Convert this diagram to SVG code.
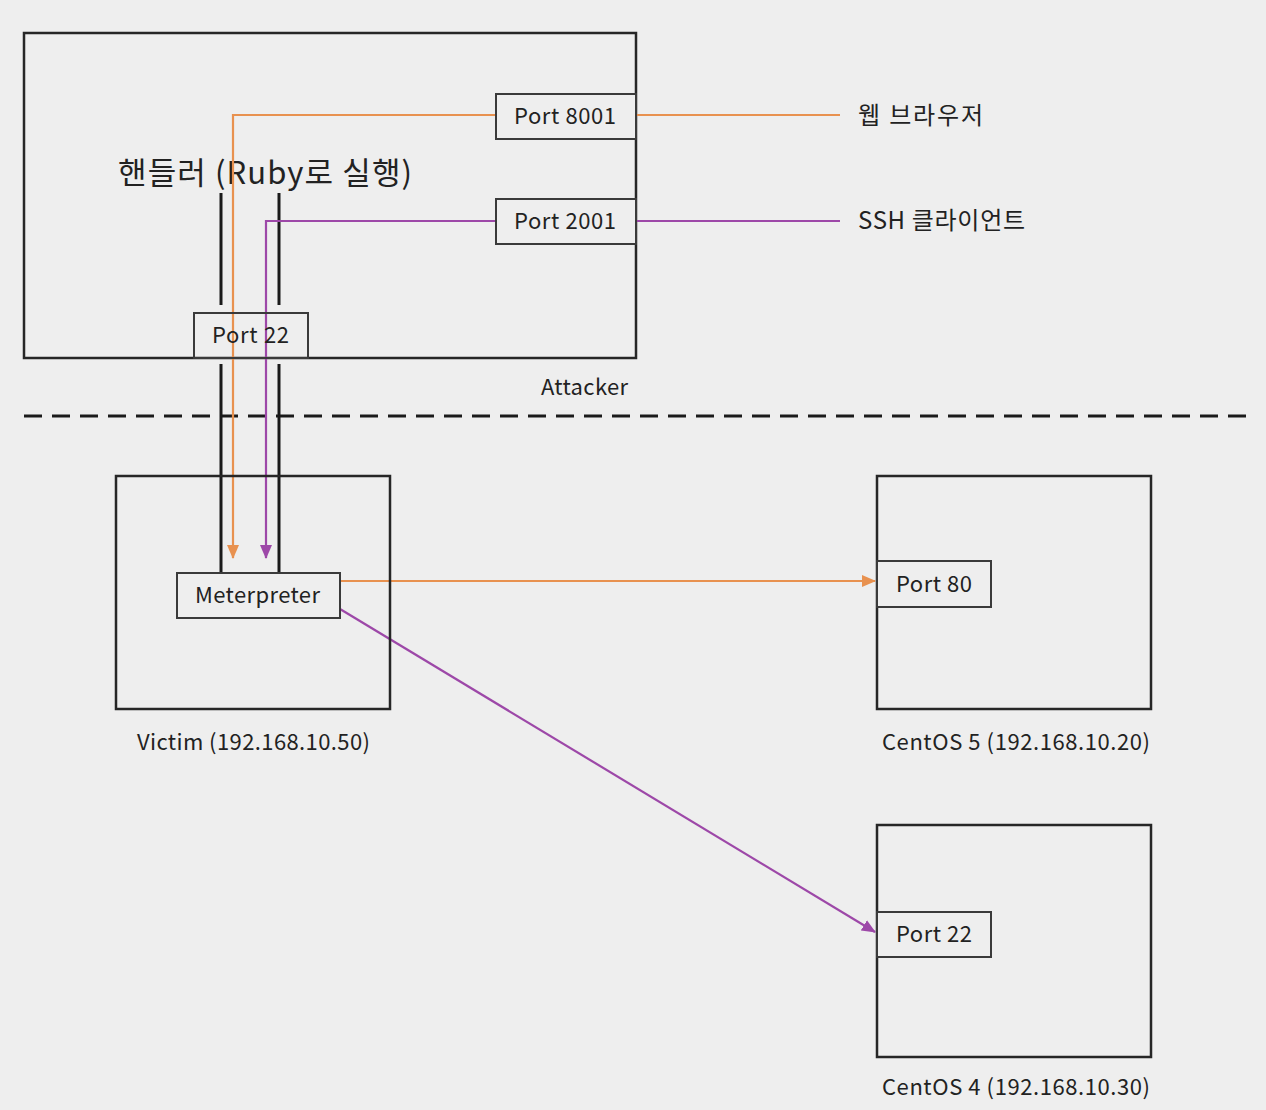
<svg xmlns="http://www.w3.org/2000/svg" width="1266" height="1110" viewBox="0 0 1266 1110">
<style>
.box{fill:none;stroke:#262626;stroke-width:2.5}
.port{fill:#eeeeee;stroke:#3a3a3a;stroke-width:2}
.t{font-family:"Noto Sans CJK KR","Open Sans",sans-serif;font-size:22px;fill:#222}
.k{font-size:24px}
.or{stroke:#e8914f;stroke-width:2.2;fill:none}
.pu{stroke:#9d48a8;stroke-width:2.2;fill:none}
.bl{stroke:#1a1a1a;stroke-width:3;fill:none}
</style>
<defs>
<marker id="ao" markerWidth="14" markerHeight="12" refX="13" refY="6" orient="auto" markerUnits="userSpaceOnUse"><path d="M0,0 L14,6 L0,12 Z" fill="#e8914f"/></marker>
<marker id="ap" markerWidth="14" markerHeight="12" refX="13" refY="6" orient="auto" markerUnits="userSpaceOnUse"><path d="M0,0 L14,6 L0,12 Z" fill="#9d48a8"/></marker>
</defs>
<rect width="1266" height="1110" fill="#eeeeee"/>
<g id="attacker">
<rect class="box" x="24" y="33" width="612" height="325"/>
<text class="t" x="541" y="395" textLength="87" lengthAdjust="spacing">Attacker</text>
<text class="t" x="118" y="184" style="font-size:31px" textLength="294" lengthAdjust="spacing">핸들러 (Ruby로 실행)</text>
</g>
<g id="connectors">
<path class="bl" d="M221,193 V305 M279,193 V305 M221,364 V572 M279,364 V572"/>
<line x1="24" y1="416" x2="1250" y2="416" stroke="#1a1a1a" stroke-width="3" stroke-dasharray="18,10"/>
<path class="or" d="M496,115 H233 V558" marker-end="url(#ao)"/>
<path class="pu" d="M496,221 H266 V558" marker-end="url(#ap)"/>
<path class="or" d="M636,115 H840"/>
<path class="pu" d="M636,221 H840"/>
<path class="or" d="M340,581 H875" marker-end="url(#ao)"/>
<path class="pu" d="M340,609 L875,932" marker-end="url(#ap)"/>
</g>
<g id="port8001"><rect class="port" x="496" y="94" width="140" height="45"/><text class="t" x="514" y="124" textLength="102" lengthAdjust="spacing">Port 8001</text></g>
<g id="port2001"><rect class="port" x="496" y="199" width="140" height="45"/><text class="t" x="514" y="229" textLength="102" lengthAdjust="spacing">Port 2001</text></g>
<g id="attacker-port22"><rect class="port" x="194" y="313" width="114" height="45" style="fill:none"/><text class="t" x="212" y="343" textLength="77" lengthAdjust="spacing">Port 22</text></g>
<g id="web-browser"><text class="t k" x="858" y="124" textLength="125" lengthAdjust="spacing">웹 브라우저</text></g>
<g id="ssh-client"><text class="t k" x="858" y="229" textLength="167" lengthAdjust="spacing">SSH 클라이언트</text></g>
<g id="victim">
<rect class="box" x="116" y="476" width="274" height="233"/>
<text class="t" x="137" y="750" textLength="233" lengthAdjust="spacing">Victim (192.168.10.50)</text>
</g>
<g id="meterpreter"><rect class="port" x="177" y="573" width="163" height="45"/><text class="t" x="195" y="603" textLength="125" lengthAdjust="spacing">Meterpreter</text></g>
<g id="centos5">
<rect class="box" x="877" y="476" width="274" height="233"/>
<text class="t" x="882" y="750" textLength="268" lengthAdjust="spacing">CentOS 5 (192.168.10.20)</text>
</g>
<g id="centos5-port80"><rect class="port" x="877" y="561" width="114" height="46"/><text class="t" x="896" y="592" textLength="76" lengthAdjust="spacing">Port 80</text></g>
<g id="centos4">
<rect class="box" x="877" y="825" width="274" height="232"/>
<text class="t" x="882" y="1095" textLength="268" lengthAdjust="spacing">CentOS 4 (192.168.10.30)</text>
</g>
<g id="centos4-port22"><rect class="port" x="877" y="912" width="114" height="45"/><text class="t" x="896" y="942" textLength="76" lengthAdjust="spacing">Port 22</text></g>
</svg>
